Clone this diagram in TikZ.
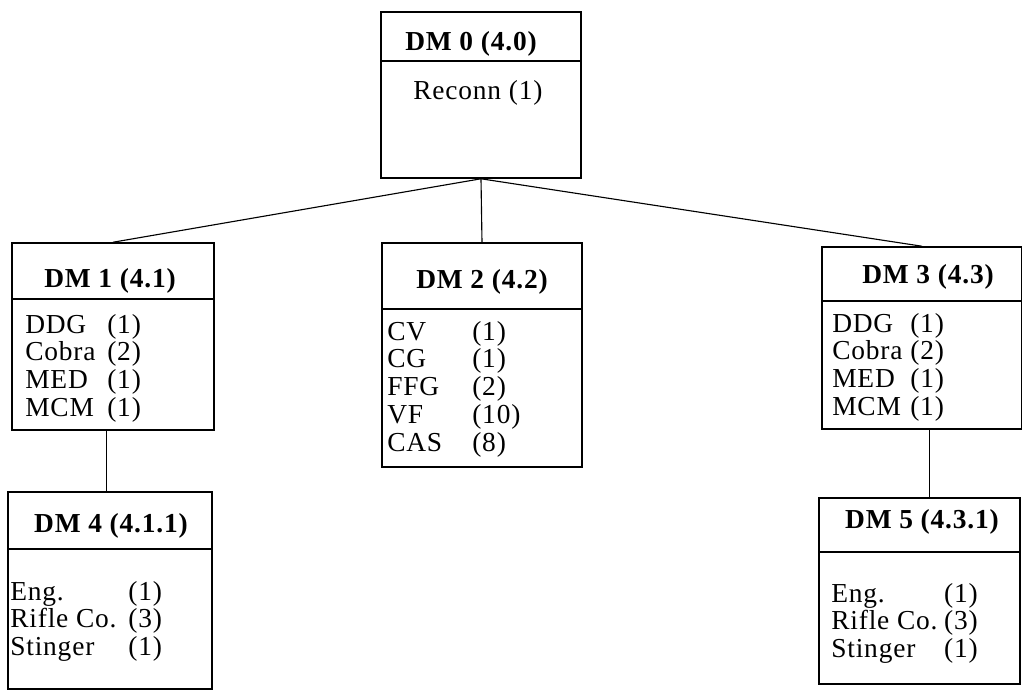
\documentclass[tikz,border=0pt]{standalone}
\usepackage{fontspec}
\setmainfont{Liberation Serif}[LetterSpace=3]
\usetikzlibrary{positioning}
\usetikzlibrary{fit}
\tikzset{dmbox/.style={draw,inner sep=0pt,line width=1.1pt}}
\tikzset{dmtitle/.style={anchor=base,inner sep=0pt,font=\fontsize{19.5}{20}\selectfont\bfseries}}
\tikzset{dmlist/.style={anchor=base west,inner sep=0pt,font=\fontsize{19.5}{19.9}\selectfont}}
\tikzset{link/.style={line width=0.8pt}}

\begin{document}
\begin{tikzpicture}[x=0.025cm,y=-0.025cm]
\useasboundingbox (0,0) rectangle (1022,692);

% boxes
\node[dmbox,fit={(381,12) (581,178)}] (dm0) {};
\node[dmbox,fit={(12,243) (214,430)}] (dm1) {};
\node[dmbox,fit={(382,243) (582,467)}] (dm2) {};
\node[dmbox,fit={(822,247) (1022,429)}] (dm3) {};
\node[dmbox,fit={(8,492) (212,689)}] (dm4) {};
\node[dmbox,fit={(819,498) (1020,684)}] (dm5) {};

% dividers
\draw[dmbox] (dm0.west |- 0,61) -- (dm0.east |- 0,61);
\draw[dmbox] (dm1.west |- 0,299) -- (dm1.east |- 0,299);
\draw[dmbox] (dm2.west |- 0,309) -- (dm2.east |- 0,309);
\draw[dmbox] (dm3.west |- 0,301) -- (dm3.east |- 0,301);
\draw[dmbox] (dm4.west |- 0,549) -- (dm4.east |- 0,549);
\draw[dmbox] (dm5.west |- 0,552) -- (dm5.east |- 0,552);

% titles
\node[dmtitle] (t0) at (471,50) {DM 0 (4.0)};
\node[dmtitle] (t1) at (110,287) {DM 1 (4.1)};
\node[dmtitle] (t2) at (482,288) {DM 2 (4.2)};
\node[dmtitle] (t3) at (928,283) {DM 3 (4.3)};
\node[dmtitle] (t4) at (111,532) {DM 4 (4.1.1)};
\node[dmtitle] (t5) at (922,528) {DM 5 (4.3.1)};

% contents
\node[dmlist] (l0) at (413,99) {Reconn (1)};
\node[dmlist] (l1) at (25,333) {\begin{tabular}[t]{@{}p{2.05cm}@{}l@{}}
DDG & (1)\\ Cobra & (2)\\ MED & (1)\\ MCM & (1)\end{tabular}};
\node[dmlist] (l2) at (387,340) {\begin{tabular}[t]{@{}p{2.125cm}@{}l@{}}
CV & (1)\\ CG & (1)\\ FFG & (2)\\ VF & (10)\\ CAS & (8)\end{tabular}};
\node[dmlist] (l3) at (832,332) {\begin{tabular}[t]{@{}p{1.95cm}@{}l@{}}
DDG & (1)\\ Cobra & (2)\\ MED & (1)\\ MCM & (1)\end{tabular}};
\node[dmlist] (l4) at (10,600) {\begin{tabular}[t]{@{}p{2.95cm}@{}l@{}}
Eng. & (1)\\ Rifle Co. & (3)\\ Stinger & (1)\end{tabular}};
\node[dmlist] (l5) at (831,602) {\begin{tabular}[t]{@{}p{2.82cm}@{}l@{}}
Eng. & (1)\\ Rifle Co. & (3)\\ Stinger & (1)\end{tabular}};

% links
\draw[link] (dm0.south) -- (dm1.north);
\draw[link] (dm0.south) -- (dm2.north);
\draw[link] (dm0.south) -- (dm3.north);
\coordinate (j4) at ([xshift=-0.08cm]dm4.north);
\draw[link] (j4) -- (j4 |- dm1.south);
\coordinate (j5) at ([xshift=0.26cm]dm5.north);
\draw[link] (j5) -- (j5 |- dm3.south);
\end{tikzpicture}
\end{document}
